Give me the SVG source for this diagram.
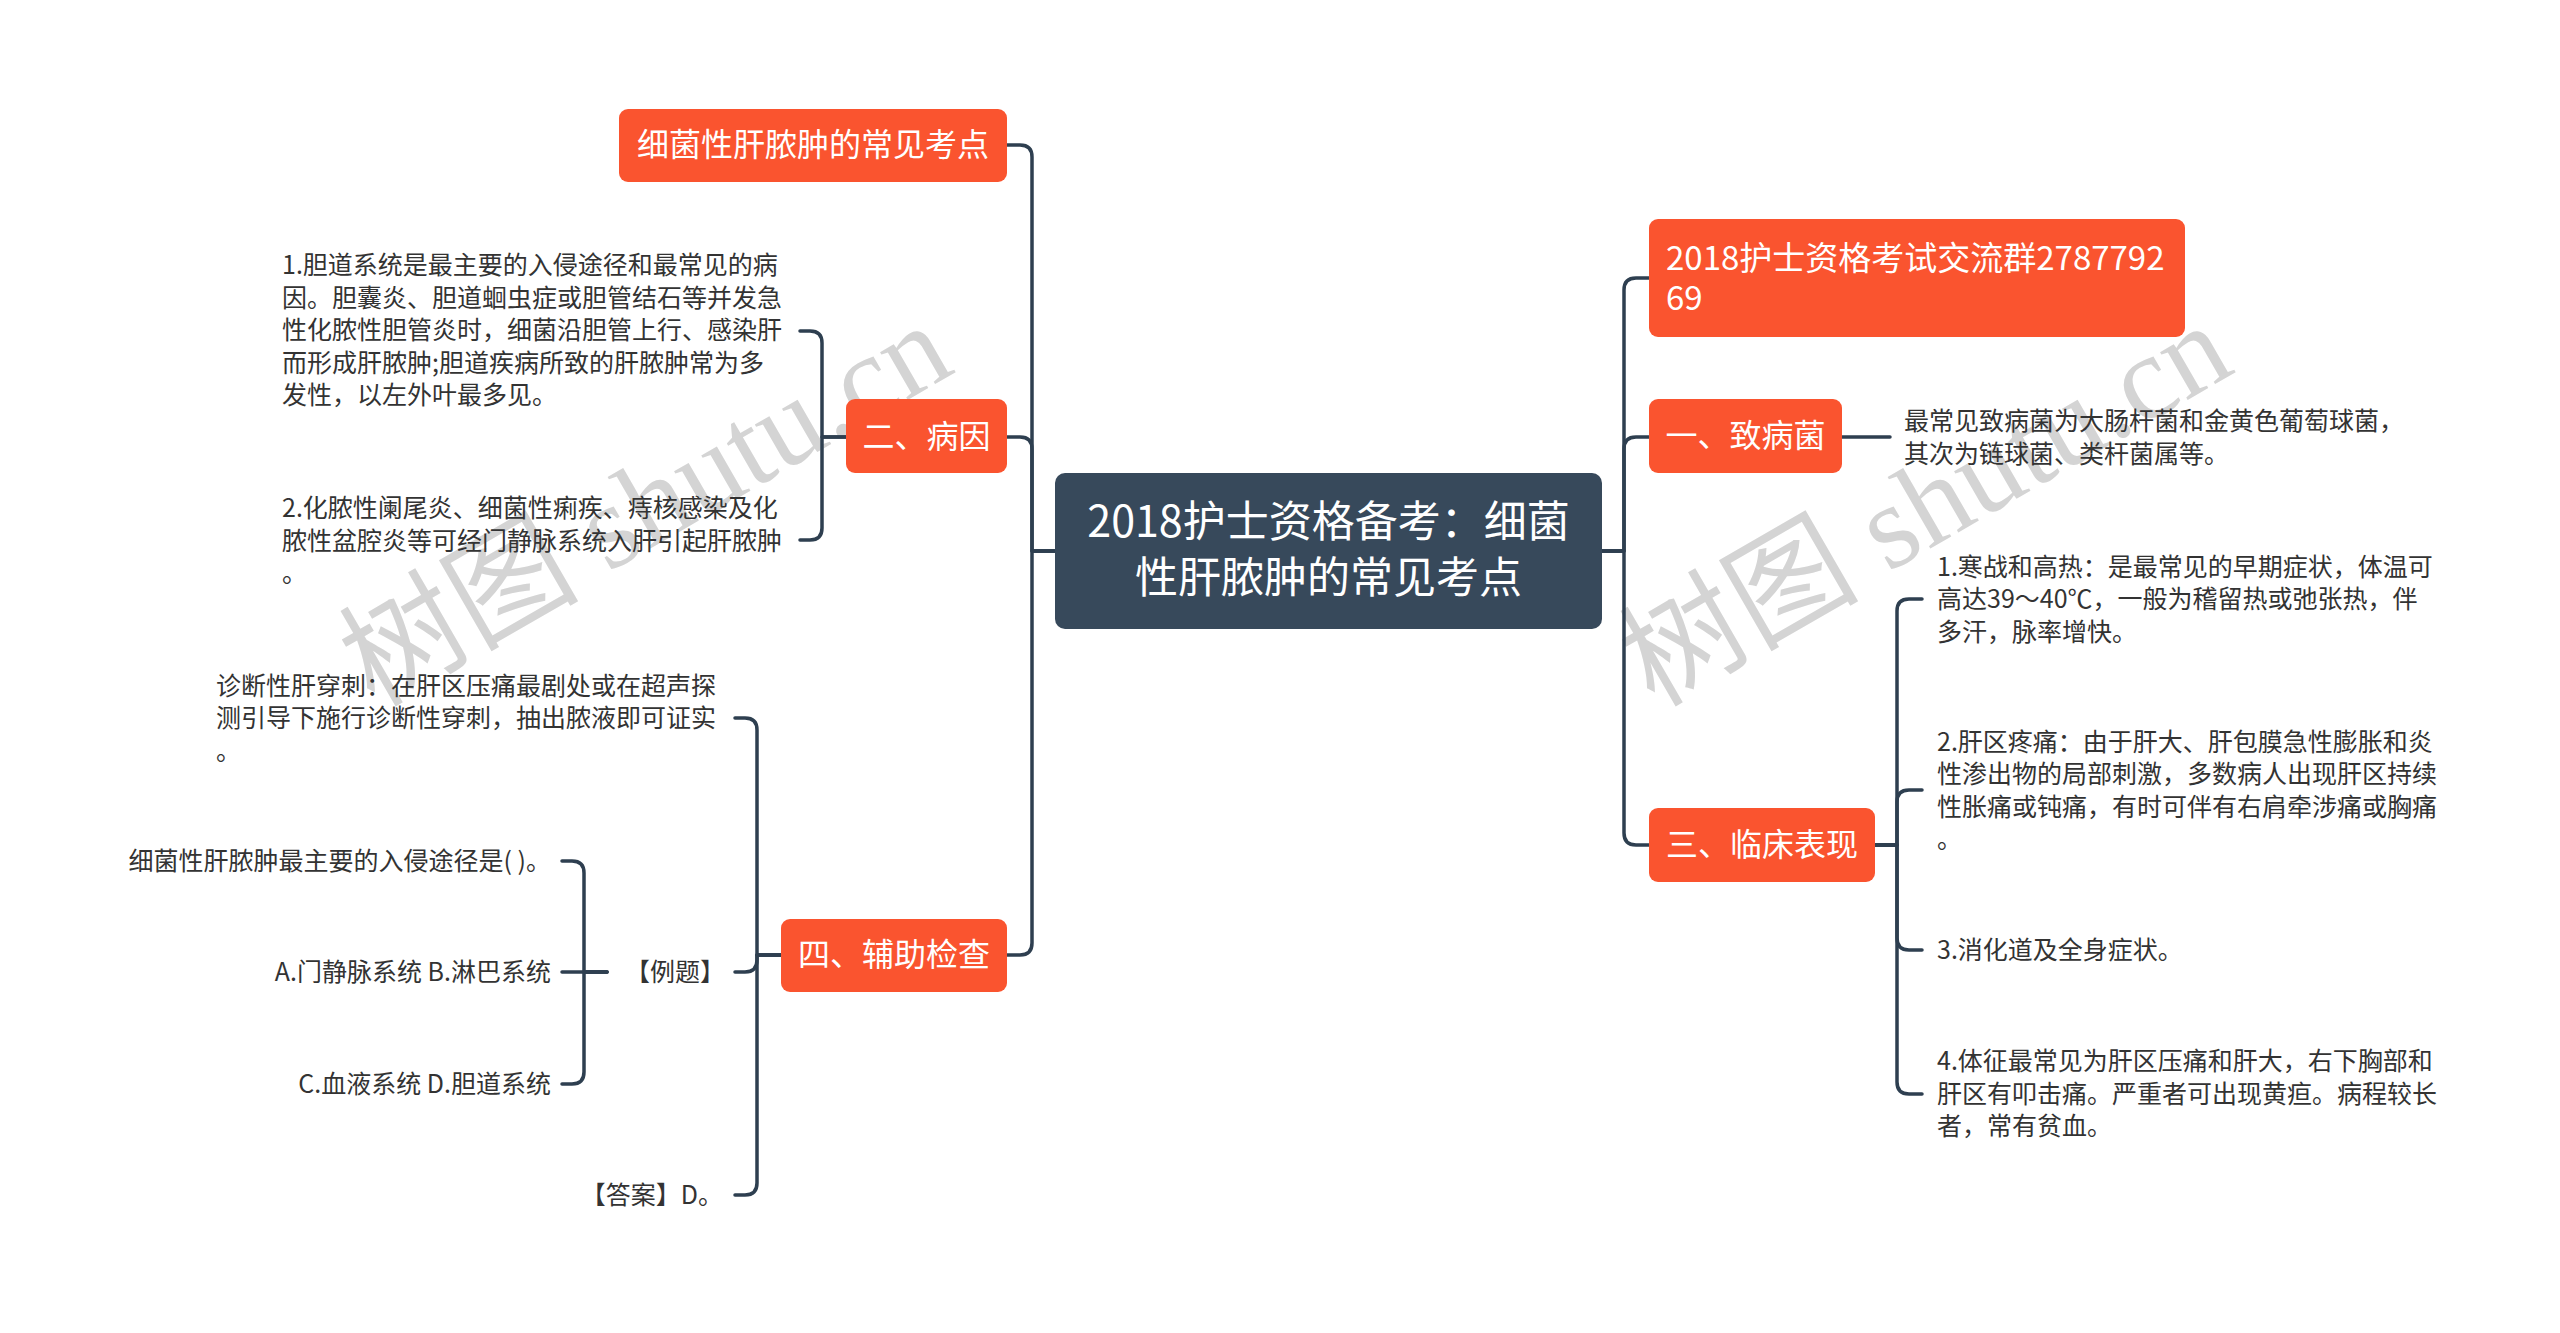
<svg xmlns="http://www.w3.org/2000/svg" width="2560" height="1333" viewBox="0 0 2560 1333">
<style>
.wm{font-family:"Liberation Serif","Noto Sans CJK SC",serif;font-size:120px;fill:#d4d4d4}
.ln{fill:none;stroke:#2e3f50;stroke-width:3.5;stroke-linecap:round;stroke-linejoin:round}
.ob{fill:#fa542f}
.ot{font-family:"Noto Sans CJK SC","Noto Sans",sans-serif;font-size:32px;fill:#ffffff}
.ct{font-family:"Noto Sans CJK SC","Noto Sans",sans-serif;font-size:43px;fill:#ffffff;text-anchor:middle}
.bt{font-family:"Noto Sans CJK SC","Noto Sans",sans-serif;font-size:25px;fill:#333333}
.e{text-anchor:end}
.m{text-anchor:middle}
</style>
<rect x="0" y="0" width="2560" height="1333" fill="#ffffff"/>
<g id="watermark">
<text class="wm" x="374" y="708" transform="rotate(-30 374 708)">树图 shutu.cn</text>
<text class="wm" x="1654" y="708" transform="rotate(-30 1654 708)">树图 shutu.cn</text>
</g>
<g id="connectors">
<path class="ln" d="M1056,551 H1032 V157 Q1032,145 1020,145 H1007"/>
<path class="ln" d="M1056,551 H1032 V449 Q1032,437 1020,437 H1007"/>
<path class="ln" d="M1056,551 H1032 V943 Q1032,955 1020,955 H1007"/>
<path class="ln" d="M1602,551 H1624 V290 Q1624,278 1636,278 H1649"/>
<path class="ln" d="M1602,551 H1624 V449 Q1624,437 1636,437 H1649"/>
<path class="ln" d="M1602,551 H1624 V833 Q1624,845 1636,845 H1649"/>
<path class="ln" d="M846,437 H822 V343 Q822,331 810,331 H800"/>
<path class="ln" d="M846,437 H822 V528 Q822,540 810,540 H800"/>
<path class="ln" d="M781,955 H757 V730 Q757,718 745,718 H735"/>
<path class="ln" d="M781,955 H757 V960 Q757,972 745,972 H735"/>
<path class="ln" d="M781,955 H757 V1183 Q757,1195 745,1195 H735"/>
<path class="ln" d="M607,972 H562"/>
<path class="ln" d="M607,972 H584 V873 Q584,861 572,861 H562"/>
<path class="ln" d="M607,972 H584 V1072 Q584,1084 572,1084 H562"/>
<path class="ln" d="M1842,437 H1890"/>
<path class="ln" d="M1875,845 H1897 V611 Q1897,599 1909,599 H1922"/>
<path class="ln" d="M1875,845 H1897 V802 Q1897,790 1909,790 H1922"/>
<path class="ln" d="M1875,845 H1897 V938 Q1897,950 1909,950 H1922"/>
<path class="ln" d="M1875,845 H1897 V1082 Q1897,1094 1909,1094 H1922"/>
</g>
<g id="center">
<rect x="1055" y="473" width="547" height="156" rx="10" fill="#37495b"/>
<text class="ct" x="1328.5" y="537">2018护士资格备考：细菌</text>
<text class="ct" x="1328.5" y="593">性肝脓肿的常见考点</text>
</g>
<g id="n-kaodian">
<rect class="ob" x="619" y="109" width="388" height="73" rx="9"/>
<text class="ot m" x="813" y="156">细菌性肝脓肿的常见考点</text>
</g>
<g id="n-bingyin">
<rect class="ob" x="846" y="399" width="161" height="74" rx="9"/>
<text class="ot m" x="926.5" y="448">二、病因</text>
</g>
<g id="n-bingyin-1">
<text class="bt" x="282" y="274">1.胆道系统是最主要的入侵途径和最常见的病</text>
<text class="bt" x="282" y="306.5">因。胆囊炎、胆道蛔虫症或胆管结石等并发急</text>
<text class="bt" x="282" y="339">性化脓性胆管炎时，细菌沿胆管上行、感染肝</text>
<text class="bt" x="282" y="371.5">而形成肝脓肿;胆道疾病所致的肝脓肿常为多</text>
<text class="bt" x="282" y="404">发性，以左外叶最多见。</text>
</g>
<g id="n-bingyin-2">
<text class="bt" x="282" y="517">2.化脓性阑尾炎、细菌性痢疾、痔核感染及化</text>
<text class="bt" x="282" y="549.5">脓性盆腔炎等可经门静脉系统入肝引起肝脓肿</text>
<text class="bt" x="282" y="582">。</text>
</g>
<g id="n-fuzhu">
<rect class="ob" x="781" y="919" width="226" height="73" rx="9"/>
<text class="ot m" x="894" y="966">四、辅助检查</text>
</g>
<g id="n-zhenduan">
<text class="bt" x="216" y="694.5">诊断性肝穿刺：在肝区压痛最剧处或在超声探</text>
<text class="bt" x="216" y="727">测引导下施行诊断性穿刺，抽出脓液即可证实</text>
<text class="bt" x="216" y="759.5">。</text>
</g>
<g id="n-liti">
<text class="bt e" x="725" y="981">【例题】</text>
</g>
<g id="n-liti-q">
<text class="bt e" x="551" y="870">细菌性肝脓肿最主要的入侵途径是( )。</text>
</g>
<g id="n-liti-ab">
<text class="bt e" x="551" y="981">A.门静脉系统 B.淋巴系统</text>
</g>
<g id="n-liti-cd">
<text class="bt e" x="551" y="1093">C.血液系统 D.胆道系统</text>
</g>
<g id="n-daan">
<text class="bt e" x="723" y="1204">【答案】D。</text>
</g>
<g id="n-qun">
<rect class="ob" x="1649" y="219" width="536" height="118" rx="9"/>
<text class="ot" x="1666" y="270" style="font-size:33px">2018护士资格考试交流群2787792</text>
<text class="ot" x="1666" y="310" style="font-size:33px">69</text>
</g>
<g id="n-zhibingjun">
<rect class="ob" x="1649" y="399" width="193" height="74" rx="9"/>
<text class="ot m" x="1745.5" y="447">一、致病菌</text>
</g>
<g id="n-zhibingjun-1">
<text class="bt" x="1904" y="430">最常见致病菌为大肠杆菌和金黄色葡萄球菌，</text>
<text class="bt" x="1904" y="462.5">其次为链球菌、类杆菌属等。</text>
</g>
<g id="n-linchuang">
<rect class="ob" x="1649" y="808" width="226" height="74" rx="9"/>
<text class="ot m" x="1762" y="856">三、临床表现</text>
</g>
<g id="n-linchuang-1">
<text class="bt" x="1937" y="575.5">1.寒战和高热：是最常见的早期症状，体温可</text>
<text class="bt" x="1937" y="608">高达39～40℃，一般为稽留热或弛张热，伴</text>
<text class="bt" x="1937" y="640.5">多汗，脉率增快。</text>
</g>
<g id="n-linchuang-2">
<text class="bt" x="1937" y="750.5">2.肝区疼痛：由于肝大、肝包膜急性膨胀和炎</text>
<text class="bt" x="1937" y="783">性渗出物的局部刺激，多数病人出现肝区持续</text>
<text class="bt" x="1937" y="815.5">性胀痛或钝痛，有时可伴有右肩牵涉痛或胸痛</text>
<text class="bt" x="1937" y="848">。</text>
</g>
<g id="n-linchuang-3">
<text class="bt" x="1937" y="959">3.消化道及全身症状。</text>
</g>
<g id="n-linchuang-4">
<text class="bt" x="1937" y="1070">4.体征最常见为肝区压痛和肝大，右下胸部和</text>
<text class="bt" x="1937" y="1102.5">肝区有叩击痛。严重者可出现黄疸。病程较长</text>
<text class="bt" x="1937" y="1135">者，常有贫血。</text>
</g>
</svg>
